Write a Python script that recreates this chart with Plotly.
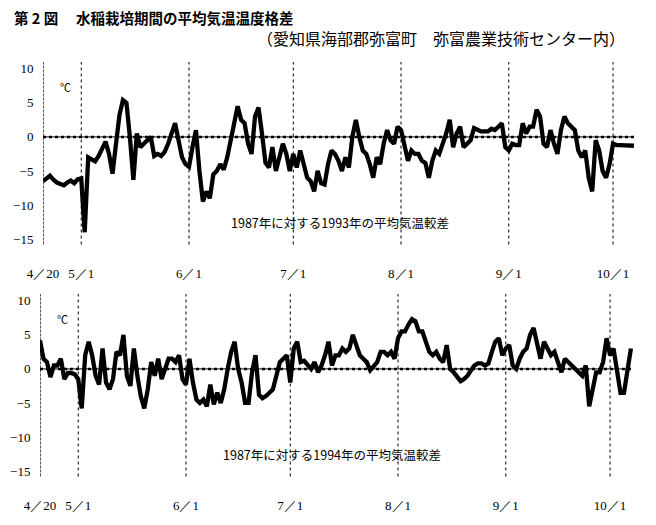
import pandas as pd
import plotly.graph_objects as go

# daily mean temperature difference vs 1987 (deg C), from 4/20 to 10/8
START = "1993-04-20"
DIFF_1993 = [
    -6.5, -6.0, -5.7, -6.3, -6.7, -6.9, -7.1, -6.7, -6.4, -6.8, -6.2, -6.1,
    -14.0, -3.0, -3.3, -3.6, -2.8, -1.8, -0.7, -2.5, -5.4, -1.0, 3.2, 5.4,
    5.0, 0.0, -6.3, 0.5, -1.5, -1.0, -0.5, 0.0, -2.8, -2.5, -2.8, -2.2,
    -1.0, 0.5, 2.0, -0.5, -3.0, -4.0, -4.4, -1.5, 1.0, -5.0, -9.5, -8.0,
    -9.0, -5.5, -5.0, -4.0, -4.8, -3.0, -0.5, 1.5, 4.5, 2.5, 2.0, -1.0,
    -2.5, 3.0, 4.3, 0.5, -3.8, -4.5, -1.5, -5.0, -2.8, -1.0, -2.5, -5.0,
    -2.5, -4.5, -2.0, -4.0, -6.0, -6.5, -8.0, -5.0, -6.8, -7.0, -4.0, -2.0,
    -2.5, -3.5, -5.0, -3.0, -4.5, 0.0, 2.5, 0.0, -2.0, -2.5, -4.0, -6.0,
    -3.0, -4.0, -1.0, 1.0, -0.5, -1.0, 1.5, 1.0, -1.0, -3.5, -2.0, -2.5,
    -2.5, -3.5, -3.8, -6.0, -3.5, -2.0, -2.5, -1.0, 0.5, 2.5, -1.5, 0.5,
    1.5, -1.5, -1.0, -0.5, 1.3, 1.0, 0.8, 0.8, 0.8, 1.2, 1.0, 1.5,
    2.0, -1.5, -2.0, -1.0, -1.2, -1.2, 2.0, 0.5, 1.5, 1.5, 4.0, 3.0,
    -1.0, -1.5, 1.0, -1.0, -2.5, 1.0, 3.0, 2.0, 1.5, 1.0, -2.0, -3.0,
    -2.0, -6.0, -8.0, -0.5, -2.0, -5.0, -6.0, -4.0, -1.0, -1.2, -1.2, -1.2,
    -1.3, -1.3, -1.3,
]
DIFF_1994 = [
    4.2, 1.5, 1.0, -1.2, 0.5, 0.5, 1.5, -1.5, -0.6, -0.6, -0.8, -1.5,
    -5.8, 2.0, 4.0, 2.0, -1.0, -2.3, 3.0, -2.0, -3.0, -1.5, 2.5, 2.0,
    5.0, -1.0, -2.5, 3.0, -1.0, -4.0, -5.8, -3.0, 1.0, -1.0, 1.5, -1.5,
    0.0, 1.5, 1.5, 1.0, 2.0, -1.5, -2.3, 1.5, -2.0, -4.5, -5.0, -4.5,
    -5.5, -2.3, -5.2, -3.5, -5.0, -3.0, 0.0, 2.5, 4.0, 0.0, -2.0, -5.0,
    -5.0, -0.5, 2.0, -3.8, -4.3, -4.0, -3.5, -3.0, -1.0, 1.0, 1.5, 2.0,
    -2.0, 3.0, 4.0, 1.0, 1.2, 0.5, 0.0, 1.0, -0.5, 0.5, 2.0, 4.0,
    0.5, 2.0, 2.0, 3.0, 2.5, 3.0, 5.0, 3.5, 2.0, 1.5, 1.0, -0.2,
    0.5, 1.0, 2.5, 2.5, 2.0, 2.5, 1.5, 4.5, 5.5, 5.5, 6.5, 7.3,
    7.0, 5.5, 5.5, 4.0, 2.5, 2.0, 2.5, 1.5, 1.0, 3.5, 0.0, -0.5,
    -1.2, -1.8, -1.5, -1.0, -0.2, 0.5, 0.8, 0.8, 0.5, 0.8, 2.5, 4.0,
    4.5, 2.0, 3.0, 3.5, 0.5, 0.0, 1.5, 2.5, 3.0, 5.0, 6.0, 4.0,
    1.5, 4.0, 3.0, 2.0, 2.5, 1.0, -0.5, 1.5, 1.0, 0.5, 0.0, -0.5,
    -1.0, 0.5, -5.5, -3.0, -0.5, -0.5, 1.0, 4.5, 2.0, 3.0, 0.0, -3.5,
    -3.5, 0.0, 3.0,
]
MONTH_DATES = ["1993-05-01", "1993-06-01", "1993-07-01", "1993-08-01",
               "1993-09-01", "1993-10-01"]
TICK_DATES = ["1993-04-20"] + MONTH_DATES
TICK_LABELS = ["4／20", "5／1", "6／1", "7／1", "8／1", "9／1", "10／1"]
Y_TICKS = [10, 5, 0, -5, -10, -15]
Y_LABELS = ["10", "5", "0", "−5", "−10", "−15"]
CAPTIONS = ["1987年に対する1993年の平均気温較差", "1987年に対する1994年の平均気温較差"]

# the page body keeps its default 8px margin, so the figure is drawn
# that much smaller and all pixel positions are measured from the window
OFF = 8
W, H = 656 - OFF, 525 - OFF
SERIF = "Liberation Serif, DejaVu Serif, serif"
JP = "Noto Sans CJK JP"

days = pd.date_range(START, periods=len(DIFF_1993))


def fx(p):
    return (p - OFF) / W


def fy(p):
    return 1 - (p - OFF) / H


fig = go.Figure()
fig.add_scatter(x=days, y=DIFF_1993, mode="lines", xaxis="x", yaxis="y",
                line=dict(color="black", width=4.3))
fig.add_scatter(x=days, y=DIFF_1994, mode="lines", xaxis="x2", yaxis="y2",
                line=dict(color="black", width=4.3))

xcommon = dict(range=["1993-04-20", "1993-10-08 18:00"], tickvals=TICK_DATES,
               ticktext=TICK_LABELS, ticks="outside", ticklen=17, tickcolor="white",
               showline=False, showgrid=False, zeroline=False, automargin=False,
               tickfont=dict(family=SERIF, size=13, color="black"))
ycommon = dict(range=[-15.8, 11], tickvals=Y_TICKS, ticktext=Y_LABELS,
               ticks="outside", ticklen=6, tickcolor="white",
               showline=False, showgrid=False, zeroline=False, automargin=False,
               tickfont=dict(family=SERIF, size=13, color="black"))

fig.update_layout(
    width=W, height=H, margin=dict(l=0, r=0, t=0, b=0, autoexpand=False),
    paper_bgcolor="white", plot_bgcolor="white", showlegend=False,
    xaxis=dict(xcommon, domain=[fx(43), fx(640)], anchor="y"),
    yaxis=dict(ycommon, domain=[fy(244.5), fy(62)], anchor="x"),
    xaxis2=dict(xcommon, domain=[fx(40), fx(637)], anchor="y2"),
    yaxis2=dict(ycommon, domain=[fy(476.5), fy(294)], anchor="x2"),
)

# left axis, month guides and zero lines
for xa, ya in (("x", "y"), ("x2", "y2")):
    fig.add_shape(type="line", xref=xa, yref=f"{ya} domain", x0=days[0], x1=days[0],
                  y0=0, y1=1, line=dict(color="black", width=1.3, dash="3px,1px"))
    for d in MONTH_DATES:
        fig.add_shape(type="line", xref=xa, yref=f"{ya} domain", x0=d, x1=d,
                      y0=0, y1=1, line=dict(color="black", width=1, dash="dot"))
    fig.add_shape(type="line", xref=xa, yref=ya, x0=days[0], x1=days[-1],
                  y0=0, y1=0, line=dict(color="black", width=1))
    fig.add_shape(type="line", xref=xa, yref=ya, x0=days[0], x1=days[-1],
                  y0=0, y1=0, line=dict(color="black", width=2.5, dash="dot"))

fig.add_annotation(text="<b>第 2 図　 水稲栽培期間の平均気温温度格差</b>",
                   xref="paper", yref="paper", x=fx(12), y=fy(17.5),
                   xanchor="left", yanchor="middle", showarrow=False,
                   font=dict(family=JP, size=14.5, color="black"))
fig.add_annotation(text="（愛知県海部郡弥富町　弥富農業技術センター内）",
                   xref="paper", yref="paper", x=fx(627), y=fy(38),
                   xanchor="right", yanchor="middle", showarrow=False,
                   font=dict(family=JP, size=16, color="black"))

for xa, ya, cap, cx in (("x", "y", CAPTIONS[0], "1993-07-14 10:00"),
                        ("x2", "y2", CAPTIONS[1], "1993-07-13")):
    fig.add_annotation(text="℃", xref=f"{xa} domain", yref=ya, x=0.025, y=7.3,
                       xanchor="left", showarrow=False,
                       font=dict(family=JP, size=11, color="black"))
    fig.add_annotation(text=cap, xref=xa, yref=ya, x=cx, y=-12.5,
                       showarrow=False,
                       font=dict(family=JP, size=12.5, color="black"))

fig.write_html("out.html")
